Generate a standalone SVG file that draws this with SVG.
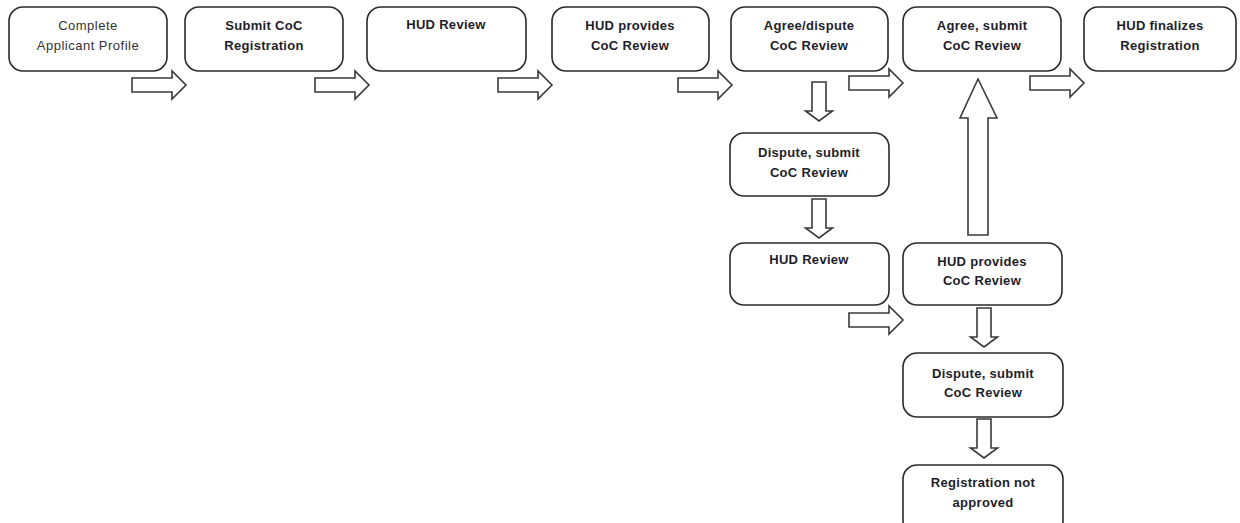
<svg xmlns="http://www.w3.org/2000/svg" xmlns:xlink="http://www.w3.org/1999/xlink" width="1240" height="523" viewBox="0 0 1240 523">
<style>
.box{fill:#ffffff;stroke:#2a2a2a;stroke-width:1.6}
.arr{fill:#ffffff;stroke:#3a3a3a;stroke-width:1.6;stroke-linejoin:miter}
.t{font-family:"Liberation Sans",Arial,sans-serif;font-size:13px;font-weight:bold;fill:#1e1e2a;text-anchor:middle;letter-spacing:0.3px}
.tn{font-weight:normal;fill:#333333;letter-spacing:0.5px}
</style>
<defs>
<path id="ra" d="M0,-7 H40 V-14 L54,0 L40,14 V7 H0 Z"/>
<path id="da" d="M-7,0 V29 H-13.5 L0,39 L13.5,29 H7 V0 Z"/>
</defs>
<rect width="1240" height="523" fill="#ffffff"/>
<g id="connectors">
<use xlink:href="#ra" class="arr" x="132" y="85"/>
<use xlink:href="#ra" class="arr" x="315" y="85"/>
<use xlink:href="#ra" class="arr" x="498" y="85"/>
<use xlink:href="#ra" class="arr" x="678" y="85"/>
<use xlink:href="#ra" class="arr" x="849" y="83"/>
<use xlink:href="#ra" class="arr" x="1030" y="83"/>
<use xlink:href="#ra" class="arr" x="849" y="320"/>
<use xlink:href="#da" class="arr" x="819" y="82"/>
<use xlink:href="#da" class="arr" x="819" y="199"/>
<use xlink:href="#da" class="arr" x="984" y="308"/>
<use xlink:href="#da" class="arr" x="984" y="419"/>
<path class="arr" d="M968,235 V118 H960 L978,79 L997,118 H988 V235 Z"/>
</g>
<g id="n1"><rect class="box" x="9" y="7" width="158" height="64" rx="14"/><text class="t tn" x="88" y="30">Complete</text><text class="t tn" x="88" y="50">Applicant Profile</text></g>
<g id="n2"><rect class="box" x="185" y="7" width="158" height="64" rx="14"/><text class="t" x="264" y="30">Submit CoC</text><text class="t" x="264" y="50">Registration</text></g>
<g id="n3"><rect class="box" x="367" y="7" width="159" height="64" rx="14"/><text class="t" x="446" y="29">HUD Review</text></g>
<g id="n4"><rect class="box" x="552" y="7" width="157" height="64" rx="14"/><text class="t" x="630" y="30">HUD provides</text><text class="t" x="630" y="50">CoC Review</text></g>
<g id="n5"><rect class="box" x="731" y="7" width="157" height="64" rx="14"/><text class="t" x="809" y="30">Agree/dispute</text><text class="t" x="809" y="50">CoC Review</text></g>
<g id="n6"><rect class="box" x="903" y="7" width="158" height="64" rx="14"/><text class="t" x="982" y="30">Agree, submit</text><text class="t" x="982" y="50">CoC Review</text></g>
<g id="n7"><rect class="box" x="1084" y="7" width="152" height="64" rx="14"/><text class="t" x="1160" y="30">HUD finalizes</text><text class="t" x="1160" y="50">Registration</text></g>
<g id="n8"><rect class="box" x="730" y="133" width="159" height="63" rx="14"/><text class="t" x="809" y="157">Dispute, submit</text><text class="t" x="809" y="177">CoC Review</text></g>
<g id="n9"><rect class="box" x="730" y="243" width="159" height="62" rx="14"/><text class="t" x="809" y="264">HUD Review</text></g>
<g id="n10"><rect class="box" x="903" y="243" width="159" height="62" rx="14"/><text class="t" x="982" y="266">HUD provides</text><text class="t" x="982" y="285">CoC Review</text></g>
<g id="n11"><rect class="box" x="903" y="353" width="160" height="64" rx="14"/><text class="t" x="983" y="378">Dispute, submit</text><text class="t" x="983" y="397">CoC Review</text></g>
<g id="n12"><rect class="box" x="903" y="465" width="160" height="70" rx="14"/><text class="t" x="983" y="487">Registration not</text><text class="t" x="983" y="507">approved</text></g>
</svg>
